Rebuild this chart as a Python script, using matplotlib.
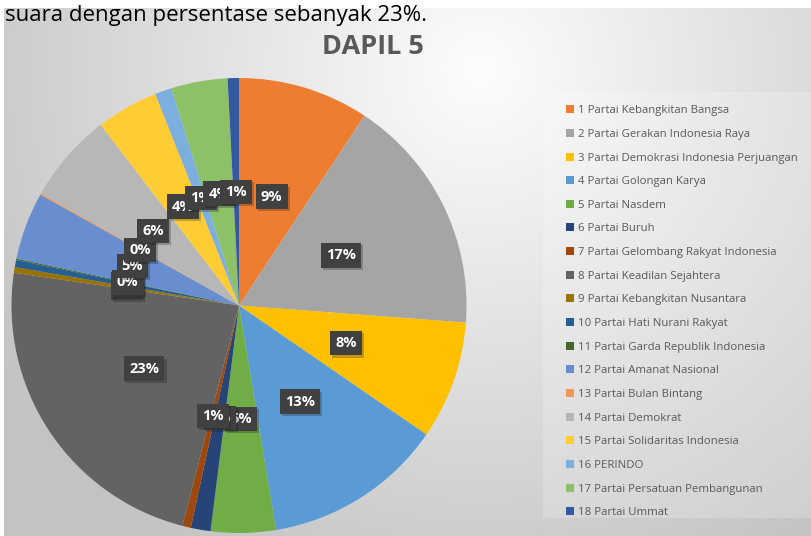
import numpy as np
import matplotlib
matplotlib.use("Agg")
import matplotlib.pyplot as plt
import matplotlib.patheffects as pe
from matplotlib.patches import Rectangle

# Data (percent of votes)
partai = [
    "1 Partai Kebangkitan Bangsa",
    "2 Partai Gerakan Indonesia Raya",
    "3 Partai Demokrasi Indonesia Perjuangan",
    "4 Partai Golongan Karya",
    "5 Partai Nasdem",
    "6 Partai Buruh",
    "7 Partai Gelombang Rakyat Indonesia",
    "8 Partai Keadilan Sejahtera",
    "9 Partai Kebangkitan Nusantara",
    "10 Partai Hati Nurani Rakyat",
    "11 Partai Garda Republik Indonesia",
    "12 Partai Amanat Nasional",
    "13 Partai Bulan Bintang",
    "14 Partai Demokrat",
    "15 Partai Solidaritas Indonesia",
    "16 PERINDO",
    "17 Partai Persatuan Pembangunan",
    "18 Partai Ummat",
]
suara = [9.3, 16.9, 8.4, 12.8, 4.6, 1.4, 0.6, 23.3, 0.4, 0.5,
         0.1, 4.8, 0.1, 6.4, 4.4, 1.2, 4.0, 0.8]
warna = ["#ED7D31", "#A5A5A5", "#FFC000", "#5B9BD5", "#70AD47", "#264478",
         "#9E480E", "#636363", "#997300", "#255E91", "#43682B", "#698ED0",
         "#F1975A", "#B7B7B7", "#FFCD33", "#7CAFDD", "#8CC168", "#335AA1"]

W, H = 811, 536
fig = plt.figure(figsize=(W / 100, H / 100), dpi=100)

# background: white page with grey radial gradient chart area
bg = fig.add_axes([0, 0, 1, 1])
bg.set_xlim(0, W)
bg.set_ylim(H, 0)
bg.axis("off")
yy, xx = np.mgrid[0:H, 0:W]
d = np.hypot(xx - 480, yy - 70)
g = np.clip(253 - 66 * d / 650, 195, 253) / 255.0
img = np.dstack([g, g, g])
img[:8, :, :] = 1.0
img[:, :4, :] = 1.0
bg.imshow(img, extent=(0, W, H, 0), aspect="auto", zorder=0)
bg.add_patch(Rectangle((543, 92), W - 543, 518 - 92, facecolor="white",
                       alpha=0.2, edgecolor="none", zorder=1))

bg.text(5, 21, "suara dengan persentase sebanyak 23%.", fontsize=16,
        family="Open Sans", color="black", va="baseline", ha="left", zorder=2)
bg.text(373, 54, "DAPIL 5", fontsize=19.5, family="Open Sans", weight="bold",
        color="#595959", va="baseline", ha="center", zorder=2)

# pie
cx, cy, r = 239, 305.5, 227.5
ax = fig.add_axes([(cx - r) / W, (H - cy - r) / H, 2 * r / W, 2 * r / H])
wedges, texts, autotexts = ax.pie(
    suara, colors=warna, startangle=90, counterclock=False,
    autopct="%.0f%%", pctdistance=0.5, radius=1,
    wedgeprops=dict(linewidth=0),
    textprops=dict(color="white", fontsize=10.5, weight="bold",
                   family="Open Sans"),
)
for t in autotexts:
    t.set_bbox(dict(boxstyle="square,pad=0.35", facecolor="#404040",
                    edgecolor="none",
                    path_effects=[pe.SimplePatchShadow(offset=(1.5, -1.5),
                                                       alpha=0.25),
                                  pe.Normal()]))
ax.set_xlim(-1, 1)
ax.set_ylim(-1, 1)
ax.set_aspect("auto")
ax.axis("off")

leg = fig.legend(wedges, partai, loc="upper left",
                 bbox_to_anchor=(556 / W, 1 - 95 / H), frameon=False,
                 labelspacing=1.11, handlelength=0.7,
                 handleheight=0.7, handletextpad=0.3,
                 prop=dict(family="Open Sans", size=8.2))
for t in leg.get_texts():
    t.set_color("#595959")

fig.savefig("out.png", dpi=100)
